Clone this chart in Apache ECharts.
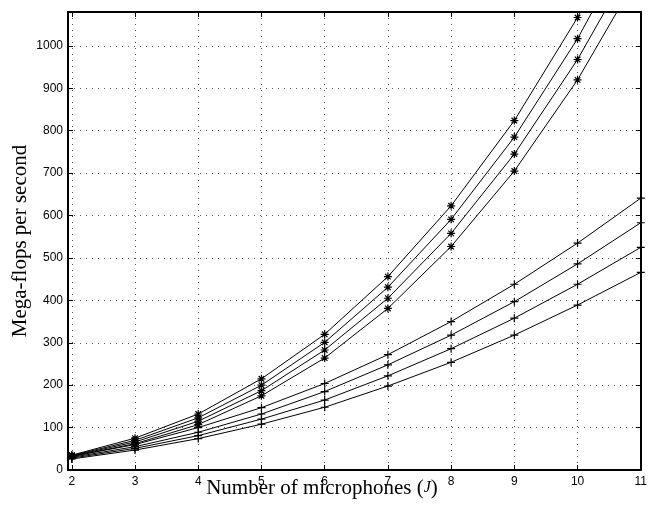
<!DOCTYPE html>
<html>
<head>
<meta charset="utf-8">
<script src="https://cdn.jsdelivr.net/npm/echarts@6/dist/echarts.min.js"></script>
<style>html,body{margin:0;padding:0;background:#fff}#c{width:650px;height:506px}</style>
</head>
<body>
<div id="c"></div>
<script>
const J = [2, 3, 4, 5, 6, 7, 8, 9, 10, 11];
const xTicks = [2, 3, 4, 5, 6, 7, 8, 9, 10, 11];
const yMaxLabel = 1000;
// asterisk-marked series (top to bottom)
const star1 = [35, 75, 132, 215, 320, 456, 623, 824, 1067, 1356];
const star2 = [34, 70, 123, 200, 301, 431, 591, 785, 1017, 1291];
const star3 = [33, 66, 115, 187, 283, 405, 558, 745, 968, 1231];
const star4 = [32, 62, 107, 175, 264, 381, 527, 705, 920, 1177];
// plus-marked series (top to bottom)
const plus1 = [32, 60, 100, 147, 204, 272, 350, 438, 535, 641];
const plus2 = [30, 55, 89, 132, 185, 248, 318, 397, 486, 583];
const plus3 = [28, 51, 81, 120, 165, 222, 286, 358, 438, 525];
const plus4 = [26, 47, 74, 108, 148, 198, 254, 318, 389, 466];

const PLUS = 'path://M0,5L10,5M5,0L5,10';
const STAR = 'path://M0,5L10,5M5,0L5,10M1.5,1.5L8.5,8.5M8.5,1.5L1.5,8.5';

function mk(data, sym) {
  return {
    type: 'line',
    data: J.map((x, i) => [x, data[i]]),
    symbol: sym,
    symbolSize: 8,
    showAllSymbol: true,
    lineStyle: { color: '#000', width: 1 },
    itemStyle: { color: 'none', borderColor: '#000', borderWidth: 1.2 },
    emphasis: { disabled: true },
    animation: false,
    clip: true,
    z: 5
  };
}

const chart = echarts.init(document.getElementById('c'));
const gridLine = { show: true, lineStyle: { color: '#555', width: 1, type: [1, 5] } };
const axLine = { show: true, onZero: false, lineStyle: { color: '#000', width: 2 } };
chart.setOption({
  animation: false,
  grid: { left: 68, right: 7, top: 12, bottom: 36, containLabel: false },
  xAxis: [{
    type: 'value', min: 1.94, max: 11, position: 'bottom',
    axisLine: axLine,
    axisTick: { show: true, inside: true, length: 5, customValues: xTicks, lineStyle: { color: '#000' } },
    axisLabel: { show: true, customValues: xTicks, color: '#000', fontSize: 12, fontFamily: 'Liberation Sans', margin: 6 },
    splitLine: gridLine
  }, {
    type: 'value', min: 1.94, max: 11, position: 'top',
    axisLine: axLine,
    axisTick: { show: true, inside: true, length: 5, customValues: xTicks, lineStyle: { color: '#000' } },
    axisLabel: { show: false },
    splitLine: { show: false }
  }],
  yAxis: [{
    type: 'value', min: 0, max: 1080, interval: 100, position: 'left',
    axisLine: axLine,
    axisTick: { show: true, inside: true, length: 5, lineStyle: { color: '#000' } },
    axisLabel: { color: '#000', fontSize: 12, fontFamily: 'Liberation Sans', margin: 5,
      formatter: v => (v > yMaxLabel ? '' : String(v)) },
    splitLine: gridLine
  }, {
    type: 'value', min: 0, max: 1080, interval: 100, position: 'right',
    axisLine: axLine,
    axisTick: { show: true, inside: true, length: 5, lineStyle: { color: '#000' } },
    axisLabel: { show: false },
    splitLine: { show: false }
  }],
  graphic: [{
    type: 'text',
    style: {
      x: 322, y: 488, text: 'Number of microphones ({i|J})', align: 'center', verticalAlign: 'middle',
      font: '21px "Liberation Serif"', fill: '#000',
      rich: { i: { fontStyle: 'italic', fontSize: 16, fontFamily: 'Liberation Serif' } }
    }
  }, {
    type: 'text', x: 20, y: 241, rotation: Math.PI / 2,
    style: {
      text: 'Mega-flops per second', align: 'center', verticalAlign: 'middle',
      font: '21px "Liberation Serif"', fill: '#000'
    }
  }],
  series: [
    mk(star1, STAR), mk(star2, STAR), mk(star3, STAR), mk(star4, STAR),
    mk(plus1, PLUS), mk(plus2, PLUS), mk(plus3, PLUS), mk(plus4, PLUS)
  ]
});
</script>
</body>
</html>
